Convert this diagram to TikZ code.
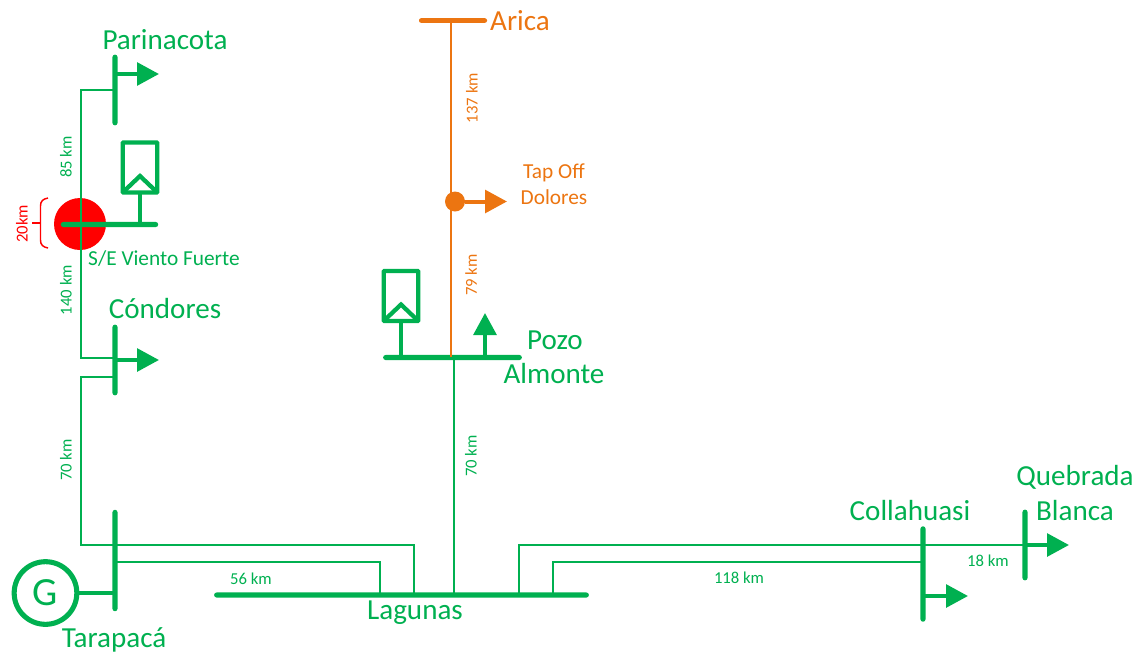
\documentclass[tikz,border=0pt]{standalone}
\usepackage{fontspec}
\setmainfont{Carlito}
\usepackage{tikz}
\usetikzlibrary{arrows.meta,calc}
\definecolor{netgreen}{HTML}{00B050}
\definecolor{netorange}{HTML}{EC7511}
\begin{document}
\begin{tikzpicture}[
    x=0.75pt, y=-0.75pt,
    hbus/.style={fill=netgreen, rounded corners=1.8pt, inner sep=0pt, outer sep=0pt, minimum height=3.8pt},
    vbus/.style={fill=netgreen, rounded corners=1.8pt, inner sep=0pt, outer sep=0pt, minimum width=3.8pt},
    wire/.style={draw=netgreen, line width=1.5pt},
    orwire/.style={draw=netorange, line width=1.3pt},
    arr/.style={-{Triangle[length=16.5pt, width=17pt]}, draw=netgreen, fill=netgreen, line width=3pt},
    genbox/.style={draw=netgreen, line width=3.2pt, rounded corners=0.5pt, minimum width=26pt, minimum height=37.5pt, inner sep=0pt, outer sep=0pt},
    busname/.style={text=netgreen, font=\fontsize{21.8}{24}\selectfont, inner sep=0pt},
    subname/.style={text=netgreen, font=\fontsize{16}{18}\selectfont, inner sep=0pt},
    dist/.style={text=netgreen, font=\fontsize{12.5}{14}\selectfont, inner sep=0pt},
]
\useasboundingbox (0,0) rectangle (1136,654);

% Red marker behind the bus
\node[circle, fill=red, minimum size=39pt, inner sep=0pt] (marker) at (80,224) {};

% Western buses
\node[vbus, minimum height=53pt] (parinacota) at (115,90) {};
\node[hbus, minimum width=73pt] (viento) at (109.5,224.5) {};
\node[vbus, minimum height=53pt] (condores) at (115,360) {};
\node[vbus, minimum height=76pt] (tarapaca) at (115,560.5) {};
\node[circle, draw=netgreen, line width=3.8pt, minimum size=47pt, inner sep=0pt,
      text=netgreen, font=\fontsize{30}{32}\selectfont] (gen) at (45.5,593) {G};

% Central buses
\node[hbus, minimum width=281pt] (lagunas) at (401.5,595) {};
\node[hbus, minimum width=104pt] (pozo) at (452.5,357.5) {};
\node[fill=netorange, rounded corners=1.5pt, inner sep=0pt, minimum width=51pt, minimum height=3.4pt] (arica) at (453,20.5) {};
\node[circle, fill=netorange, minimum size=15pt, inner sep=0pt] (tap) at (455,201.5) {};

% Eastern buses
\node[vbus, minimum height=71.5pt] (collahuasi) at (923,574) {};
\node[vbus, minimum height=53pt] (quebrada) at (1025,545) {};

% Generators
\node[genbox] (genviento) at (140,167.5) {};
\node[genbox] (genpozo) at (401,296) {};
\draw[netgreen, line width=3.2pt] (genviento.south west) -- (140,176) -- (genviento.south east);
\draw[netgreen, line width=3.2pt] (genpozo.south west) -- (401,304.5) -- (genpozo.south east);
\draw[netgreen, line width=3pt] (genviento.south) -- (genviento.south |- viento);
\draw[netgreen, line width=3pt] (genpozo.south) -- (genpozo.south |- pozo);

% Lines
\coordinate (parin_t) at (115,90);
\coordinate (cond_a) at (115,358);
\coordinate (cond_b) at (115,377);
\coordinate (tara_a) at (115,545);
\coordinate (tara_b) at (115,562);
\coordinate (lag_a) at (380,595);
\coordinate (lag_b) at (414,595);
\coordinate (lag_c) at (454,595);
\coordinate (lag_d) at (519,595);
\coordinate (lag_e) at (553,595);
\coordinate (coll_t) at (923,562);
\coordinate (queb_t) at (1025,545);
\coordinate (ari_t) at (451,20);
\coordinate (poz_t) at (451,357);
\draw[wire] (parin_t) -- (81,90) |- (cond_a);
\draw[wire] (cond_b) -- (81,377) |- (tara_a);
\draw[wire] (tara_a) -| (lag_b);
\draw[wire] (tara_b) -| (lag_a);
\draw[wire] (lag_c) -- (lag_c |- pozo);
\draw[wire] (lag_d) |- (queb_t);
\draw[wire] (lag_e) |- (coll_t);
\draw[netgreen, line width=2.4pt] (gen) -- (gen -| tarapaca);
\draw[orwire] (ari_t) -- (poz_t);

% Loads
\coordinate (parin_l) at (115,74);
\coordinate (cond_l) at (115,360);
\coordinate (pozo_l) at (485,357);
\coordinate (coll_l) at (923,596);
\coordinate (queb_l) at (1025,545);
\draw[arr] (parin_l) -- ++(44,0);
\draw[arr] (cond_l) -- ++(44,0);
\draw[arr] (pozo_l) -- ++(0,-44);
\draw[arr] (coll_l) -- ++(45,0);
\draw[arr] (queb_l) -- ++(44,0);
\draw[arr, draw=netorange, fill=netorange] (tap) -- ++(52,0);

% Bracket for the 20 km section
\draw[red, line width=1.1pt] (48,198) .. controls (43,199) and (40.5,201) .. (40.5,206) -- (40.5,240) .. controls (40.5,245) and (43,247) .. (48,248);
\draw[red, line width=1.1pt] (32,223) -- (40.5,223);

% Names
\node[busname] (parinacota_t) at (165,40) {Parinacota};
\node[busname] (condores_t) at (165,309) {Cóndores};
\node[busname] (tarapaca_t) at (114,640) {Tarapacá};
\node[busname] (lagunas_t) at (415,613) {Lagunas};
\node[busname] (pozo_t) at (555,340) {Pozo};
\node[busname] (almonte_t) at (554,374) {Almonte};
\node[busname] (collahuasi_t) at (910,511) {Collahuasi};
\node[busname] (quebrada_t) at (1075,477) {Quebrada};
\node[busname] (blanca_t) at (1075,511) {Blanca};
\node[busname, text=netorange] (arica_t) at (520,21) {Arica};
\node[subname] (viento_t) at (164,259) {S/E Viento Fuerte};
\node[subname, text=netorange] (tapoff_t) at (554,173) {Tap Off};
\node[subname, text=netorange] (dolores_t) at (554,197) {Dolores};

% Distances
\node[dist, rotate=90] (d85) at (66,157) {85 km};
\node[dist, rotate=90] (d140) at (66,290) {140 km};
\node[dist, rotate=90] (d70a) at (66,460) {70 km};
\node[dist, rotate=90] (d70b) at (471,456) {70 km};
\node[dist, rotate=90, text=netorange] (d137) at (472,98) {137 km};
\node[dist, rotate=90, text=netorange] (d79) at (471,275) {79 km};
\node[dist, rotate=90, text=red] (d20) at (22,224) {20km};
\node[dist] (d56) at (251,579) {56 km};
\node[dist] (d118) at (739,578) {118 km};
\node[dist] (d18) at (988,561) {18 km};
\end{tikzpicture}
\end{document}
